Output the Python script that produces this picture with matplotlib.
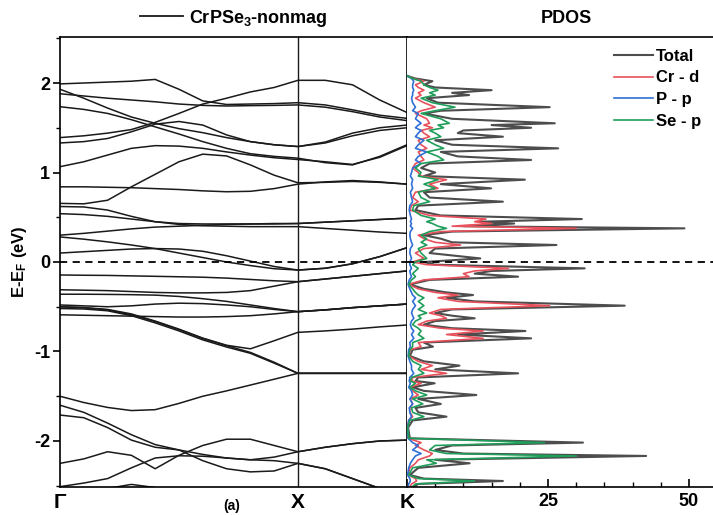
import matplotlib
matplotlib.use('Agg')
import matplotlib.pyplot as plt
from matplotlib.ticker import MultipleLocator
from matplotlib.lines import Line2D

plt.rcParams['font.family'] = ['Liberation Sans Narrow', 'Liberation Sans', 'DejaVu Sans']
plt.rcParams['font.weight'] = 'bold'
plt.rcParams['axes.unicode_minus'] = False
plt.rcParams['mathtext.fontset'] = 'custom'
plt.rcParams['mathtext.rm'] = 'Liberation Sans:bold'
plt.rcParams['mathtext.it'] = 'Liberation Sans:bold'
plt.rcParams['mathtext.bf'] = 'Liberation Sans:bold'

# ---------------- band structure data ----------------
k_path = [0.0, 0.1, 0.2, 0.3, 0.4, 0.5, 0.6, 0.7, 0.8, 0.9, 1.0,
          1.1146, 1.2292, 1.3438, 1.4583]
k_ticks = [0.0, 1.0, 1.4583]
k_labels = ['Γ', 'X', 'K']

bands = [
    [1.99, 2.00, 2.01, 2.02, 2.04, 1.93, 1.80, 1.76, 1.765, 1.77, 1.78, 1.755, 1.70, 1.64, 1.605],
    [1.39, 1.41, 1.44, 1.48, 1.56, 1.66, 1.765, 1.83, 1.90, 1.95, 2.03, 2.03, 1.98, 1.81, 1.67],
    [1.93, 1.83, 1.72, 1.62, 1.55, 1.49, 1.445, 1.39, 1.345, 1.31, 1.29, 1.34, 1.44, 1.50, 1.53],
    [1.88, 1.855, 1.83, 1.81, 1.79, 1.765, 1.75, 1.743, 1.747, 1.75, 1.755, 1.73, 1.68, 1.62, 1.58],
    [1.735, 1.705, 1.66, 1.59, 1.51, 1.43, 1.345, 1.27, 1.21, 1.18, 1.16, 1.11, 1.085, 1.18, 1.31],
    [1.33, 1.345, 1.38, 1.455, 1.54, 1.57, 1.53, 1.42, 1.345, 1.31, 1.29, 1.33, 1.41, 1.47, 1.50],
    [1.065, 1.12, 1.195, 1.27, 1.30, 1.295, 1.27, 1.23, 1.195, 1.165, 1.145, 1.12, 1.09, 1.17, 1.30],
    [0.84, 0.84, 0.835, 0.83, 0.82, 0.81, 0.795, 0.785, 0.79, 0.82, 0.87, 0.895, 0.91, 0.895, 0.87],
    [0.655, 0.65, 0.69, 0.84, 0.98, 1.12, 1.205, 1.185, 1.085, 0.97, 0.885, 0.89, 0.90, 0.89, 0.87],
    [0.62, 0.615, 0.58, 0.51, 0.45, 0.43, 0.425, 0.425, 0.425, 0.425, 0.43, 0.445, 0.46, 0.475, 0.49],
    [0.54, 0.53, 0.51, 0.48, 0.45, 0.42, 0.405, 0.40, 0.395, 0.395, 0.395, 0.375, 0.355, 0.335, 0.32],
    [0.30, 0.32, 0.345, 0.37, 0.39, 0.40, 0.41, 0.42, 0.425, 0.43, 0.43, 0.445, 0.46, 0.475, 0.49],
    [0.28, 0.255, 0.225, 0.19, 0.15, 0.10, 0.05, 0.0, -0.04, -0.075, -0.09, -0.07, -0.02, 0.06, 0.16],
    [0.10, 0.115, 0.13, 0.145, 0.15, 0.145, 0.12, 0.07, 0.01, -0.05, -0.09, -0.07, -0.02, 0.06, 0.16],
    [-0.145, -0.148, -0.15, -0.155, -0.16, -0.165, -0.17, -0.18, -0.195, -0.21, -0.22, -0.19, -0.16, -0.13, -0.10],
    [-0.31, -0.315, -0.32, -0.33, -0.34, -0.345, -0.345, -0.34, -0.32, -0.27, -0.22, -0.19, -0.16, -0.13, -0.10],
    [-0.36, -0.36, -0.362, -0.365, -0.37, -0.385, -0.41, -0.44, -0.48, -0.52, -0.555, -0.535, -0.51, -0.49, -0.47],
    [-0.48, -0.49, -0.50, -0.49, -0.47, -0.46, -0.465, -0.48, -0.50, -0.53, -0.555, -0.535, -0.51, -0.49, -0.47],
    [-0.59, -0.595, -0.60, -0.605, -0.61, -0.615, -0.615, -0.61, -0.60, -0.58, -0.555, -0.535, -0.51, -0.49, -0.47],
    [-0.52, -0.525, -0.545, -0.60, -0.68, -0.77, -0.87, -0.95, -1.02, -1.13, -1.244, -1.244, -1.244, -1.244, -1.244],
    [-0.50, -0.51, -0.535, -0.59, -0.665, -0.755, -0.855, -0.935, -1.01, -1.12, -1.244, -1.244, -1.244, -1.244, -1.244],
    [-0.50, -0.51, -0.53, -0.58, -0.66, -0.75, -0.85, -0.93, -0.97, -0.88, -0.786, -0.77, -0.75, -0.725, -0.704],
    [-1.50, -1.57, -1.625, -1.66, -1.65, -1.58, -1.50, -1.44, -1.375, -1.31, -1.244, -1.244, -1.244, -1.244, -1.244],
    [-1.60, -1.68, -1.80, -1.93, -2.04, -2.10, -2.15, -2.19, -2.21, -2.18, -2.12, -2.07, -2.03, -2.00, -1.99],
    [-1.71, -1.74, -1.85, -1.99, -2.07, -2.10, -2.22, -2.31, -2.345, -2.335, -2.25, -2.31, -2.42, -2.53, -2.63],
    [-2.25, -2.20, -2.12, -2.16, -2.31, -2.16, -2.05, -1.98, -1.98, -2.05, -2.12, -2.07, -2.03, -2.00, -1.99],
    [-2.51, -2.47, -2.42, -2.30, -2.19, -2.165, -2.17, -2.19, -2.21, -2.22, -2.25, -2.31, -2.42, -2.53, -2.63],
    [-2.70, -2.62, -2.53, -2.485, -2.52, -2.60, -2.70, -2.80, -2.90, -3.00, -3.00, -3.00, -3.00, -3.00, -3.00],
]

# ---------------- PDOS data ----------------
pdos_E = [2.08, 2.05, 2.02, 1.98, 1.95, 1.92, 1.89, 1.865, 1.83, 1.78, 1.73, 1.69, 1.66, 1.60,
          1.55, 1.53, 1.50, 1.47, 1.44, 1.40, 1.36, 1.31, 1.27, 1.23, 1.18, 1.14, 1.10, 1.05,
          1.00, 0.96, 0.92, 0.87, 0.823, 0.78, 0.72, 0.674, 0.63, 0.58, 0.52, 0.48, 0.45, 0.43,
          0.40, 0.376, 0.34, 0.30, 0.26, 0.22, 0.19, 0.15, 0.10, 0.04, 0.00, -0.03, -0.071, -0.10,
          -0.13, -0.164, -0.20, -0.25, -0.30, -0.34, -0.369, -0.40, -0.44, -0.488, -0.53, -0.57,
          -0.60, -0.629, -0.66, -0.70, -0.74, -0.771, -0.81, -0.853, -0.90, -0.946, -0.98, -1.05,
          -1.11, -1.158, -1.20, -1.244, -1.29, -1.33, -1.355, -1.40, -1.44, -1.486, -1.53, -1.586,
          -1.63, -1.68, -1.728, -1.77, -1.85, -1.97, -2.018, -2.05, -2.10, -2.14, -2.167, -2.21,
          -2.249, -2.30, -2.38, -2.42, -2.447, -2.48, -2.52]
pdos_total = [0, 1.5, 4.5, 3.0, 5.0, 15.0, 8.0, 11.0, 3.5, 5.5, 25.3, 6.0, 3.0, 8.0,
              26.2, 15.0, 22.0, 10.0, 9.0, 17.0, 5.0, 8.0, 26.8, 6.0, 9.0, 22.0, 4.0, 2.5,
              5.0, 3.0, 20.9, 6.0, 14.9, 3.0, 4.0, 17.0, 2.0, 1.5, 6.0, 31.0, 13.0, 19.0,
              10.0, 49.2, 8.0, 3.0, 6.0, 8.0, 26.5, 5.0, 4.0, 13.0, 3.0, 5.0, 31.5, 15.0,
              12.0, 19.7, 4.0, 0.5, 3.0, 7.0, 11.7, 7.0, 12.0, 38.6, 8.0, 5.0,
              8.0, 12.0, 5.0, 3.0, 8.0, 21.0, 9.0, 22.0, 3.0, 4.6, 1.0, 0.5,
              3.0, 9.3, 5.0, 19.7, 2.0, 1.5, 4.9, 1.0, 3.0, 12.3, 2.0, 6.0,
              1.5, 2.0, 7.0, 1.0, 0.2, 0.5, 31.2, 8.0, 5.0, 10.0, 42.4, 5.0,
              11.1, 2.0, 0.5, 3.0, 17.0, 2.0, 1.0]
pdos_cr_d = [0, 1.0, 3.0, 1.5, 2.0, 3.0, 2.0, 2.5, 1.5, 3.0, 5.0, 2.5, 1.5, 3.5,
             4.0, 3.0, 4.5, 2.5, 3.0, 4.0, 2.0, 2.5, 3.5, 2.0, 2.5, 3.0, 1.5, 1.0,
             2.0, 2.5, 7.0, 4.0, 5.5, 1.5, 1.0, 2.0, 0.8, 0.5, 4.0, 14.0, 12.0, 15.0,
             8.0, 30.0, 6.0, 2.0, 3.0, 5.0, 9.5, 3.0, 1.5, 3.0, 1.0, 3.5, 18.0, 12.0,
             10.0, 11.0, 3.0, 0.3, 2.0, 5.0, 9.0, 5.5, 9.0, 25.3, 6.0, 4.0,
             6.0, 7.0, 3.5, 2.0, 6.0, 13.5, 7.0, 13.5, 2.0, 2.5, 0.6, 0.3,
             2.0, 4.5, 2.5, 7.0, 1.0, 0.8, 2.5, 0.6, 1.0, 2.0, 0.6, 1.0,
             0.5, 0.5, 1.0, 0.3, 0.1, 0.2, 2.5, 1.5, 3.0, 4.5, 4.0, 2.0,
             1.5, 0.5, 0.2, 1.5, 1.7, 0.8, 0.5]
pdos_p_p = [0, 0.8, 1.2, 1.0, 1.0, 1.2, 1.0, 1.0, 0.8, 1.0, 1.5, 1.0, 2.0, 1.5,
            2.5, 2.0, 1.5, 2.5, 2.0, 1.5, 3.0, 2.0, 1.5, 3.5, 2.0, 1.5, 2.5, 1.0,
            0.8, 0.6, 1.0, 0.8, 1.0, 0.6, 0.8, 1.0, 0.5, 0.4, 0.6, 0.8, 0.6, 0.8,
            0.6, 1.0, 0.6, 0.5, 0.6, 0.8, 1.0, 0.6, 0.5, 0.8, 0.5, 0.5, 0.8, 0.5,
            0.6, 0.8, 0.4, 0.2, 0.5, 0.8, 1.0, 1.5, 1.0, 1.5, 1.0, 0.8,
            1.0, 1.2, 0.8, 0.6, 0.8, 1.2, 0.8, 1.2, 0.5, 0.6, 0.3, 0.2,
            0.5, 0.8, 0.8, 1.2, 0.5, 0.4, 0.6, 0.3, 0.8, 1.0, 0.5, 1.0,
            0.4, 0.5, 0.8, 0.3, 0.1, 0.2, 1.0, 2.0, 1.0, 2.5, 1.5, 1.0,
            0.6, 0.3, 0.1, 0.5, 0.6, 0.3, 0.2]
pdos_se_p = [0, 1.0, 2.5, 3.0, 4.0, 5.5, 4.0, 5.0, 2.5, 4.5, 8.5, 5.0, 2.5, 6.0,
             7.5, 5.5, 6.5, 4.0, 5.0, 6.0, 3.5, 5.0, 6.5, 3.5, 5.5, 6.5, 2.5, 1.5,
             2.5, 2.0, 5.5, 3.0, 5.0, 2.0, 2.5, 4.0, 1.2, 1.0, 2.5, 5.0, 3.5, 4.5,
             5.5, 7.0, 4.0, 2.5, 3.5, 2.5, 3.5, 2.0, 2.5, 3.5, 1.5, 1.0, 2.0, 1.5,
             1.0, 1.5, 0.8, 0.3, 1.0, 1.5, 2.0, 3.0, 2.0, 3.0, 2.0, 3.5,
             2.0, 2.5, 1.5, 1.0, 2.0, 2.5, 2.0, 3.0, 1.0, 1.0, 0.5, 0.3,
             1.0, 2.5, 2.0, 3.0, 0.8, 0.6, 1.5, 0.5, 1.5, 3.5, 1.0, 2.8,
             0.8, 1.0, 3.0, 0.5, 0.1, 0.3, 24.4, 5.0, 4.0, 7.0, 30.0, 3.5,
             5.2, 1.0, 0.3, 2.0, 12.0, 1.5, 0.8]
pdos_labels = ['Total', 'Cr - d', 'P - p', 'Se - p']
pdos_colors = ['#4d4d4d', '#e8505b', '#2f6fd6', '#1f9e5a']

# ---------------- figure ----------------
W, H = 713, 515
fig = plt.figure(figsize=(W / 100, H / 100), dpi=100)
ax1 = fig.add_axes([60 / W, 28 / H, 347 / W, 450 / H])
ax2 = fig.add_axes([407 / W, 28 / H, 306 / W, 450 / H])

ylim = (-2.514, 2.514)

for b in bands:
    ax1.plot(k_path, b, color='#1a1a1a', lw=1.1)
ax1.axvline(1.0, color='#1a1a1a', lw=1.0)
ax1.axhline(0, color='k', lw=1.3, ls=(0, (4, 3)))
ax1.set_xlim(0, k_path[-1])
ax1.set_ylim(*ylim)
ax1.set_xticks(k_ticks)
ax1.set_xticklabels(k_labels, fontsize=15, fontweight='bold')
ax1.tick_params(axis='x', length=0, pad=4)
ax1.set_yticks([-2, -1, 0, 1, 2])
ax1.set_yticklabels(['-2', '-1', '0', '1', '2'], fontsize=13, fontweight='bold')
ax1.yaxis.set_minor_locator(MultipleLocator(0.5))
ax1.tick_params(axis='y', which='major', direction='out', length=5, width=1.2, pad=2)
ax1.tick_params(axis='y', which='minor', direction='out', length=3, width=1.0)
ax1.set_ylabel('E-E$_F$ (eV)', fontsize=12, fontweight='bold', labelpad=4)
for s in ax1.spines.values():
    s.set_linewidth(1.2)

title_handle = Line2D([], [], color='#1a1a1a', lw=1.3)
ax1.legend([title_handle], ['CrPSe$_3$-nonmag'], loc='center',
           bbox_to_anchor=(0.5, 1.042), frameon=False, fontsize=13,
           handlelength=2.4, handletextpad=0.3, borderaxespad=0)

series = [pdos_total, pdos_cr_d, pdos_p_p, pdos_se_p]
handles = []
for vals, lab, col in zip(series, pdos_labels, pdos_colors):
    lw = 1.5 if lab == 'Total' else 1.2
    h, = ax2.plot(vals, pdos_E, color=col, lw=lw, label=lab)
    handles.append(h)
ax2.axhline(0, color='k', lw=1.3, ls=(0, (4, 3)))
ax2.set_xlim(0, 54.26)
ax2.set_ylim(*ylim)
ax2.set_xticks([0, 25, 50])
ax2.set_xticklabels(['', '25', '50'], fontsize=13, fontweight='bold')
ax2.xaxis.set_minor_locator(MultipleLocator(5))
ax2.tick_params(axis='x', which='major', direction='in', length=6, width=1.2, pad=4)
ax2.tick_params(axis='x', which='minor', direction='in', length=3.5, width=1.0)
ax2.tick_params(axis='y', left=False, labelleft=False)
ax2.spines['left'].set_visible(False)
ax2.spines['right'].set_visible(False)
for s in ('top', 'bottom'):
    ax2.spines[s].set_linewidth(1.2)
ax2.text(0.52, 1.042, 'PDOS', transform=ax2.transAxes, ha='center', va='center',
         fontsize=13, fontweight='bold')
ax2.legend(handles=handles, loc='upper right', bbox_to_anchor=(1.0, 1.0),
           frameon=False, fontsize=12, handlelength=2.3, handletextpad=0.2,
           labelspacing=0.4, borderaxespad=0.3)

fig.text(232 / W, 2 / H, '(a)', ha='center', va='bottom', fontsize=10, fontweight='bold')

fig.savefig('out.png', dpi=100)
